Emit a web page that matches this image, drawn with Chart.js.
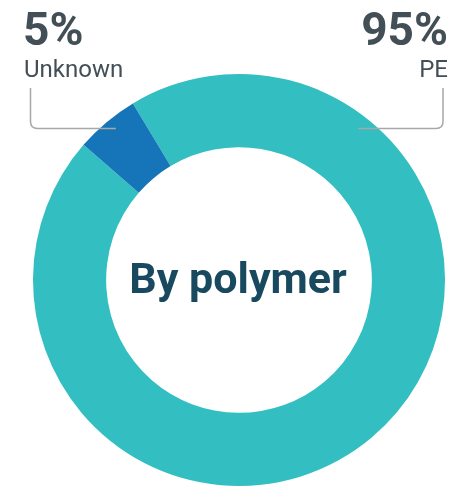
<!DOCTYPE html>
<html><head><meta charset="utf-8">
<script src="https://cdn.jsdelivr.net/npm/chart.js@4"></script>
<style>
html,body{margin:0;padding:0;background:#fff;overflow:hidden;}
#wrap{position:relative;width:462px;height:487px;}
</style>
</head><body>
<div id="wrap"><canvas id="c" width="462" height="487"></canvas></div>
<script>
const categories = ['PE', 'Unknown'];
const values = [95, 5];
const colors = ['#33bec1', '#1675b9'];
const centerTitle = 'By polymer';

const calloutPlugin = {
  id: 'callouts',
  afterDraw(chart) {
    const ctx = chart.ctx;
    const meta = chart.getDatasetMeta(0);
    const arcPE = meta.data[0];
    const arcUn = meta.data[1];
    const cx = arcPE.x, cy = arcPE.y;
    const R = arcPE.outerRadius;
    ctx.save();
    // center title
    ctx.fillStyle = '#18495e';
    ctx.font = 'bold 43px Roboto, sans-serif';
    ctx.textAlign = 'center';
    ctx.textBaseline = 'alphabetic';
    ctx.fillText(centerTitle, cx - 1, cy + 13);

    // labels
    const labelBase = 45, nameBase = 77;
    const leftX = chart.chartArea.left - 10;
    const rightX = chart.chartArea.right + 3;
    ctx.fillStyle = '#434f57';
    ctx.textAlign = 'left';
    ctx.font = 'bold 46px Roboto, sans-serif';
    ctx.fillText(values[1] + '%', leftX, labelBase);
    ctx.font = '24px Roboto, sans-serif';
    ctx.fillText(categories[1], leftX + 1, nameBase);
    ctx.textAlign = 'right';
    ctx.font = 'bold 46px Roboto, sans-serif';
    ctx.fillText(values[0] + '%', rightX, labelBase);
    ctx.font = '24px Roboto, sans-serif';
    ctx.fillText(categories[0], rightX, nameBase);

    // callout lines
    const mid = (arcUn.startAngle + arcUn.endAngle) / 2;
    const reach = Math.abs(Math.cos(mid)) * R * 0.93;
    const lineY = 128.5, topY = 88, rad = 7;
    ctx.strokeStyle = '#a8a8a8';
    ctx.lineWidth = 1.5;
    const lx = leftX + 7.5;
    ctx.beginPath();
    ctx.moveTo(lx, topY);
    ctx.lineTo(lx, lineY - rad);
    ctx.quadraticCurveTo(lx, lineY, lx + rad, lineY);
    ctx.lineTo(cx - reach, lineY);
    ctx.stroke();
    const rx = rightX - 5;
    ctx.beginPath();
    ctx.moveTo(rx, topY);
    ctx.lineTo(rx, lineY - rad);
    ctx.quadraticCurveTo(rx, lineY, rx - rad, lineY);
    ctx.lineTo(cx + reach - 4, lineY);
    ctx.stroke();
    ctx.restore();
  }
};

new Chart(document.getElementById('c'), {
  type: 'doughnut',
  data: {
    labels: categories,
    datasets: [{
      data: values,
      backgroundColor: colors,
      borderWidth: 0,
      hoverOffset: 0
    }]
  },
  options: {
    responsive: false,
    animation: false,
    rotation: -31,
    cutout: '64.5%',
    layout: { padding: { left: 33, top: 74, right: 17, bottom: 1 } },
    plugins: { legend: { display: false }, tooltip: { enabled: false } }
  },
  plugins: [calloutPlugin]
});
</script>
</body></html>
